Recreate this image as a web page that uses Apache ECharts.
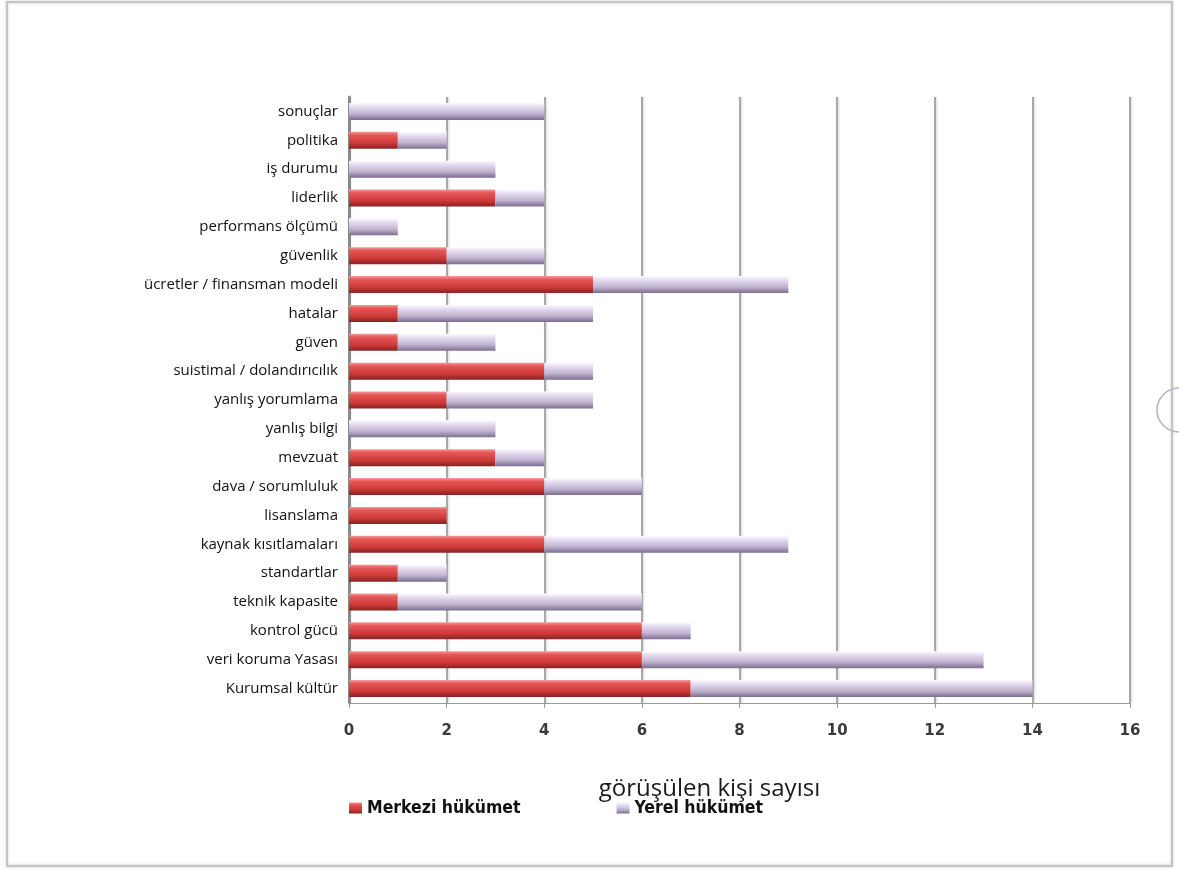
<!DOCTYPE html>
<html>
<head>
<meta charset="utf-8">
<script src="https://cdn.jsdelivr.net/npm/echarts@6/dist/echarts.min.js"></script>
<style>
  html, body { margin: 0; padding: 0; background: #fff; }
  #chart { width: 1179px; height: 870px; }
</style>
</head>
<body>
<div id="chart"></div>
<script>
const categories = [
  "sonuçlar", "politika", "iş durumu", "liderlik", "performans ölçümü", "güvenlik",
  "ücretler / finansman modeli", "hatalar", "güven", "suistimal / dolandırıcılık",
  "yanlış yorumlama", "yanlış bilgi", "mevzuat", "dava / sorumluluk", "lisanslama",
  "kaynak kısıtlamaları", "standartlar", "teknik kapasite", "kontrol gücü",
  "veri koruma Yasası", "Kurumsal kültür"
];
const merkezi = [0, 1, 0, 3, 0, 2, 5, 1, 1, 4, 2, 0, 3, 4, 2, 4, 1, 1, 6, 6, 7];
const yerel = [4, 1, 3, 1, 1, 2, 4, 4, 2, 1, 3, 3, 1, 2, 0, 5, 1, 5, 1, 7, 7];
const xTicks = [0, 2, 4, 6, 8, 10, 12, 14, 16];

const chart = echarts.init(document.getElementById("chart"));

// vertical gradients give the bars the glossy tube look of the original
const redFill = new echarts.graphic.LinearGradient(0, 0, 0, 1, [
  { offset: 0, color: "#f59a9a" },
  { offset: 0.2, color: "#e65656" },
  { offset: 0.65, color: "#cf3a3a" },
  { offset: 1, color: "#882222" }
]);
const lilacFill = new echarts.graphic.LinearGradient(0, 0, 0, 1, [
  { offset: 0, color: "#fdfaff" },
  { offset: 0.25, color: "#e3daef" },
  { offset: 0.65, color: "#bfb2cf" },
  { offset: 1, color: "#7b6d8e" }
]);

chart.setOption({
  animation: false,
  backgroundColor: "#fff",
  grid: { left: 349, right: 49, top: 97, bottom: 167 },
  legend: {
    left: 344,
    top: 794,
    itemWidth: 13,
    itemHeight: 11,
    itemGap: 96,
    icon: "rect",
    textStyle: {
      fontFamily: "'Liberation Sans Narrow', 'DejaVu Sans Condensed', sans-serif",
      fontWeight: "bold",
      fontSize: 17.5,
      color: "#111"
    },
    data: ["Merkezi hükümet", "Yerel hükümet"]
  },
  xAxis: {
    type: "value",
    min: 0,
    max: 16,
    interval: 2,
    name: "görüşülen kişi sayısı",
    nameLocation: "middle",
    nameGap: 74,
    nameTextStyle: {
      fontFamily: "'Open Sans', 'Noto Sans', sans-serif",
      fontSize: 24,
      color: "#1a1a1a",
      padding: [0, 60, 0, 0]
    },
    axisLine: { show: true, lineStyle: { color: "#9a9a9a", width: 1 } },
    axisTick: { show: true, length: 5, lineStyle: { color: "#9a9a9a" } },
    axisLabel: {
      margin: 21,
      fontFamily: "'DejaVu Sans', sans-serif",
      fontWeight: "bold",
      fontSize: 15,
      color: "#3a3a3a",
      formatter: (v) => (xTicks.includes(v) ? String(v) : "")
    },
    splitLine: {
      show: true,
      lineStyle: { color: "#a8a8a8", width: 2, shadowColor: "rgba(0,0,0,0.15)", shadowBlur: 2, shadowOffsetX: 1 }
    }
  },
  yAxis: {
    type: "category",
    inverse: true,
    data: categories,
    axisLine: { show: true, lineStyle: { color: "#8a8a8a", width: 3 } },
    axisTick: { show: false },
    axisLabel: {
      margin: 11,
      fontFamily: "'Open Sans', 'Noto Sans', sans-serif",
      fontSize: 15,
      color: "#111"
    }
  },
  series: [
    {
      name: "Merkezi hükümet",
      type: "bar",
      stack: "toplam",
      barWidth: 17,
      data: merkezi,
      itemStyle: { color: redFill }
    },
    {
      name: "Yerel hükümet",
      type: "bar",
      stack: "toplam",
      barWidth: 17,
      data: yerel,
      itemStyle: { color: lilacFill }
    }
  ],
  graphic: [
    {
      type: "rect",
      silent: true,
      shape: { x: 7, y: 2, width: 1165, height: 864 },
      style: { fill: "none", stroke: "#c4c4c4", lineWidth: 2, shadowColor: "rgba(0,0,0,0.2)", shadowBlur: 3 }
    },
    {
      type: "arc",
      silent: true,
      shape: { cx: 1179, cy: 410, r: 22, startAngle: Math.PI * 0.5, endAngle: Math.PI * 1.5 },
      style: { fill: "none", stroke: "#b8b0cc", lineWidth: 1.5 }
    }
  ]
});
</script>
</body>
</html>
